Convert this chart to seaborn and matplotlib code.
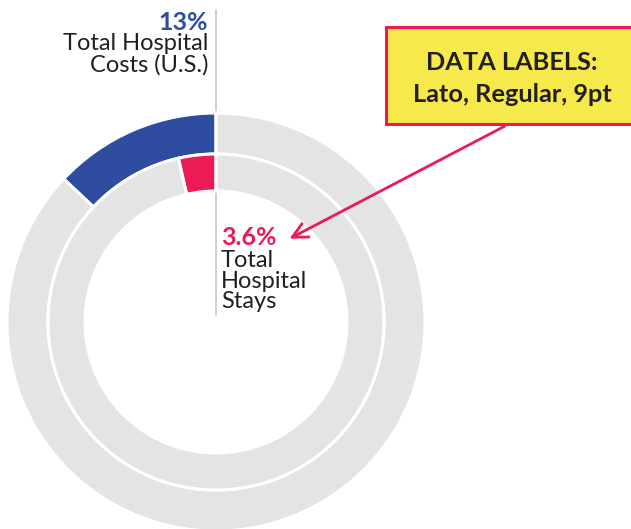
import matplotlib
matplotlib.use("Agg")
import matplotlib.pyplot as plt
import seaborn as sns
from matplotlib.patches import Rectangle

sns.set_theme(style="white")
plt.rcParams['font.family'] = ['Lato', 'DejaVu Sans']

# data
outer_labels = ["Total Hospital Costs (U.S.)", "Other"]
outer_values = [13, 87]
inner_labels = ["Total Hospital Stays", "Other"]
inner_values = [3.6, 96.4]

BLUE = "#2f4da0"
RED = "#ec1b56"
GRAY = "#e4e4e4"

W, H = 631, 529
fig = plt.figure(figsize=(W / 100, H / 100), dpi=100)
ax = fig.add_axes([0, 0, 1, 1])

def Y(y):
    return H - y

cx, cy = 216, Y(322)

# vertical guide line (behind)
ax.plot([216, 216], [Y(10), Y(315)], color="#c4c7cc", lw=1.2, zorder=0)

ax.pie(outer_values, colors=[BLUE, GRAY], startangle=90, counterclock=True,
       radius=209, center=(cx, cy), frame=True,
       wedgeprops=dict(width=41, edgecolor="white", linewidth=2.2))
ax.pie(inner_values, colors=[RED, GRAY], startangle=90, counterclock=True,
       radius=168, center=(cx, cy), frame=True,
       wedgeprops=dict(width=37, edgecolor="white", linewidth=2.2))
ax.set_xlim(0, W)
ax.set_ylim(0, H)
ax.set_aspect("auto")
ax.axis("off")

fs = 17
fsb = 18
ax.text(208, Y(30), f"{outer_values[0]:g}%", color=BLUE, fontsize=fsb, fontweight="bold",
        ha="right", va="baseline", zorder=5)
ax.text(208, Y(50), "Total Hospital", color="#231f20", fontsize=fs, ha="right", va="baseline", zorder=5)
ax.text(208, Y(72), "Costs (U.S.)", color="#231f20", fontsize=fs, ha="right", va="baseline", zorder=5)

ax.text(221, Y(245), f"{inner_values[0]:g}%", color=RED, fontsize=fsb, fontweight="bold",
        ha="left", va="baseline", zorder=5)
for txt, yb in zip(["Total", "Hospital", "Stays"], [267, 288, 308]):
    ax.text(221, Y(yb), txt, color="#231f20", fontsize=fs, ha="left", va="baseline", zorder=5)

# callout box
ax.add_patch(Rectangle((386, Y(124)), 260, 97, facecolor="#f6e94b", edgecolor=RED,
                       linewidth=2.2, zorder=6, clip_on=True))
ax.text(512, Y(70), "DATA LABELS:", fontsize=18.3, fontweight="bold", color="#231f20",
        ha="center", va="baseline", zorder=7)
ax.text(512, Y(102), "Lato, Regular, 9pt", fontsize=18.3, fontweight="bold", color="#231f20",
        ha="center", va="baseline", zorder=7)

ax.annotate("", xy=(287, Y(240)), xytext=(507, Y(125)),
            arrowprops=dict(arrowstyle="->,head_length=0.9,head_width=0.45", color=RED, lw=2),
            zorder=7)

fig.savefig("out.png", dpi=100)
